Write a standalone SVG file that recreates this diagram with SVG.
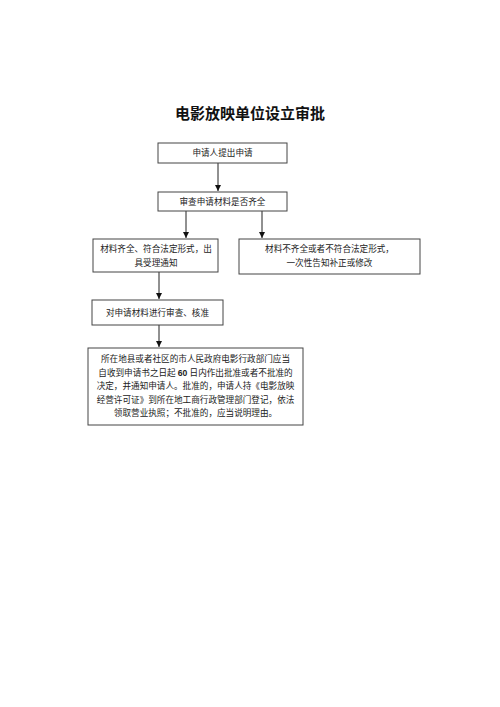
<svg xmlns="http://www.w3.org/2000/svg" width="500" height="707" viewBox="0 0 500 707">
<style>
.box{fill:#fff;stroke:#444;stroke-width:1}
.t{font-family:"Liberation Serif","Noto Sans CJK SC",serif;font-size:8.6px;fill:#222;text-anchor:middle}
.title{font-family:"Liberation Serif","Noto Sans CJK SC",serif;font-size:15px;font-weight:bold;fill:#111;text-anchor:middle}
.ln{stroke:#222;stroke-width:1;fill:none}
</style>
<defs>
<marker id="ah" viewBox="0 0 6 6" refX="6" refY="3" markerWidth="6" markerHeight="6" markerUnits="userSpaceOnUse" orient="auto">
<path d="M0,0 L6,3 L0,6 Z" fill="#111"/>
</marker>
</defs>
<rect width="500" height="707" fill="#fff"/>
<text class="title" x="250" y="119">电影放映单位设立审批</text>
<g id="connectors">
<line class="ln" x1="218" y1="163" x2="218" y2="191" marker-end="url(#ah)"/>
<line class="ln" x1="186" y1="211" x2="186" y2="238" marker-end="url(#ah)"/>
<line class="ln" x1="262" y1="211" x2="262" y2="238" marker-end="url(#ah)"/>
<line class="ln" x1="159" y1="272" x2="159" y2="299" marker-end="url(#ah)"/>
<line class="ln" x1="159" y1="325" x2="159" y2="347" marker-end="url(#ah)"/>
</g>
<g id="n1">
<rect class="box" x="158" y="143" width="129" height="20"/>
<text class="t" x="222.5" y="156">申请人提出申请</text>
</g>
<g id="n2">
<rect class="box" x="158" y="192" width="129" height="19"/>
<text class="t" x="222.5" y="204.5">审查申请材料是否齐全</text>
</g>
<g id="n3">
<rect class="box" x="93" y="239" width="125" height="33"/>
<text class="t" x="156" y="252">材料齐全、符合法定形式，出</text>
<text class="t" x="156" y="266">具受理通知</text>
</g>
<g id="n4">
<rect class="box" x="239" y="239" width="181" height="35"/>
<text class="t" x="329.5" y="252">材料不齐全或者不符合法定形式，</text>
<text class="t" x="329.5" y="266">一次性告知补正或修改</text>
</g>
<g id="n5">
<rect class="box" x="92" y="300" width="131" height="25"/>
<text class="t" x="157.5" y="315.5">对申请材料进行审查、核准</text>
</g>
<g id="n6">
<rect class="box" x="88" y="348" width="215" height="77"/>
<text class="t" x="195.5" y="362">所在地县或者社区的市人民政府电影行政部门应当</text>
<text class="t" x="195.5" y="375.5">自收到申请书之日起 <tspan font-weight="bold" font-family="Liberation Sans,sans-serif">60</tspan> 日内作出批准或者不批准的</text>
<text class="t" x="195.5" y="389">决定，并通知申请人。批准的，申请人持《电影放映</text>
<text class="t" x="195.5" y="402.5">经营许可证》到所在地工商行政管理部门登记，依法</text>
<text class="t" x="195.5" y="416">领取营业执照；不批准的，应当说明理由。</text>
</g>
</svg>
